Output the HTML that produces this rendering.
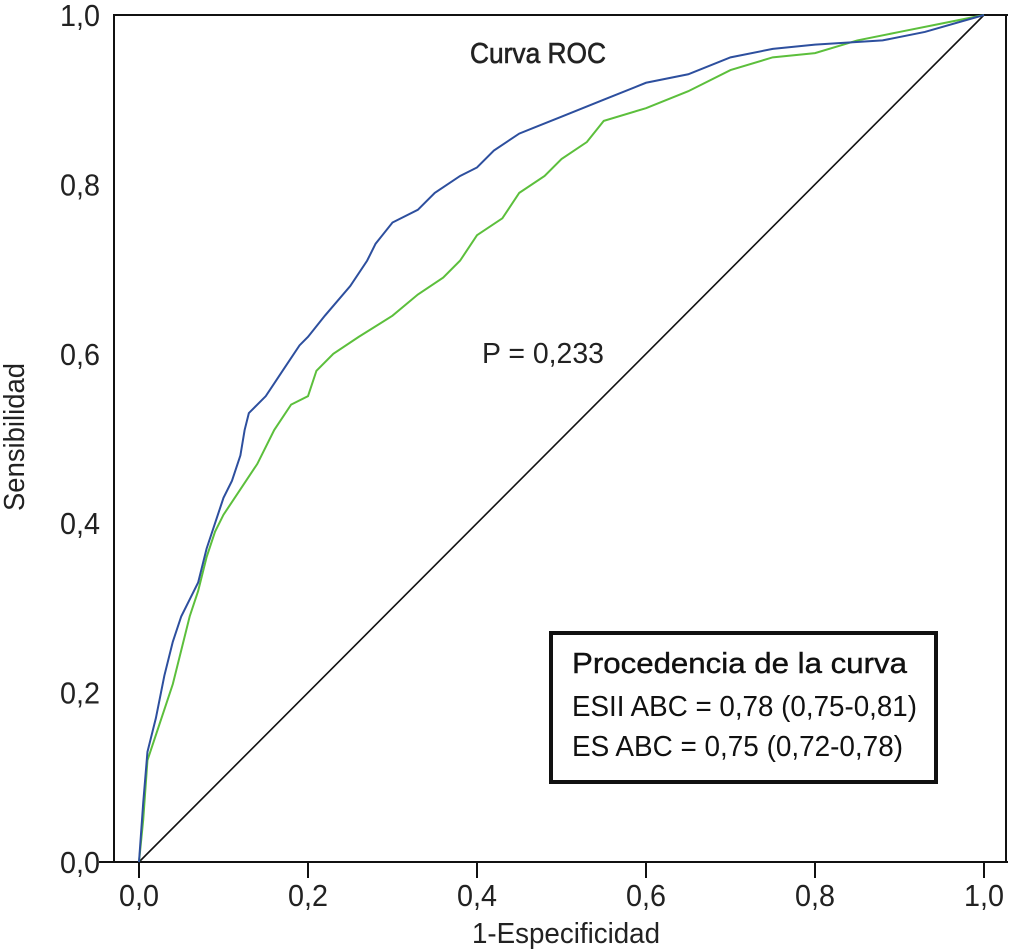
<!DOCTYPE html>
<html><head><meta charset="utf-8"><style>
html,body{margin:0;padding:0;background:#fff;}
svg{display:block;font-family:"Liberation Sans",sans-serif;}
</style></head><body>
<svg id="chart" width="1010" height="950" viewBox="0 0 1010 950">
<g id="frame">
<line x1="114" y1="15" x2="114" y2="862" stroke="#111" stroke-width="2"/>
<line x1="99" y1="862" x2="1008" y2="862" stroke="#111" stroke-width="2"/>
<line x1="113" y1="15" x2="1008" y2="15" stroke="#111" stroke-width="2"/>
<line x1="1006" y1="15" x2="1006" y2="862" stroke="#111" stroke-width="2"/>
</g>
<g id="ticks"></g>
<g id="series"></g>
<text x="538" y="63" font-size="29" text-anchor="middle" textLength="136" lengthAdjust="spacingAndGlyphs" stroke="#222" stroke-width="0.6" fill="#222">Curva ROC</text>
<text x="482" y="363" font-size="29" textLength="122" lengthAdjust="spacingAndGlyphs" fill="#222">P = 0,233</text>
<text x="566" y="943" font-size="29" text-anchor="middle" textLength="188" lengthAdjust="spacingAndGlyphs" fill="#222">1-Especificidad</text>
<text transform="translate(24,437) rotate(-90)" font-size="29" text-anchor="middle" textLength="148" lengthAdjust="spacingAndGlyphs" fill="#222">Sensibilidad</text>
<g>
<rect x="551" y="633" width="385" height="149" fill="#fff" stroke="#111" stroke-width="4"/>
<text x="572" y="673" font-size="29" textLength="335" lengthAdjust="spacingAndGlyphs" stroke="#111" stroke-width="0.4" fill="#111">Procedencia de la curva</text>
<text x="572" y="716" font-size="29" textLength="345" lengthAdjust="spacingAndGlyphs" fill="#111">ESII ABC = 0,78 (0,75-0,81)</text>
<text x="572" y="756" font-size="29" textLength="331" lengthAdjust="spacingAndGlyphs" fill="#111">ES ABC = 0,75 (0,72-0,78)</text>
</g>
</svg>
<script>
const tickValues = [0, 0.2, 0.4, 0.6, 0.8, 1.0];
const tickLabels = ["0,0", "0,2", "0,4", "0,6", "0,8", "1,0"];
const esiiFpr = [0,0.005,0.01,0.02,0.03,0.04,0.05,0.06,0.07,0.08,0.09,0.10,0.11,0.12,0.125,0.13,0.15,0.17,0.19,0.2,0.22,0.25,0.27,0.28,0.3,0.33,0.35,0.38,0.40,0.42,0.45,0.5,0.55,0.6,0.65,0.7,0.75,0.8,0.88,0.93,1];
const esiiTpr = [0,0.07,0.13,0.17,0.22,0.26,0.29,0.31,0.33,0.37,0.40,0.43,0.45,0.48,0.51,0.53,0.55,0.58,0.61,0.62,0.645,0.68,0.71,0.73,0.755,0.77,0.79,0.81,0.82,0.84,0.86,0.88,0.90,0.92,0.93,0.95,0.96,0.965,0.97,0.98,1];
const esFpr = [0,0.005,0.01,0.02,0.03,0.04,0.05,0.06,0.07,0.08,0.09,0.1,0.12,0.14,0.16,0.18,0.2,0.21,0.23,0.26,0.3,0.33,0.36,0.38,0.4,0.43,0.45,0.48,0.5,0.53,0.55,0.6,0.65,0.7,0.75,0.8,0.85,0.9,0.95,1];
const esTpr = [0,0.05,0.12,0.15,0.18,0.21,0.25,0.29,0.32,0.36,0.39,0.41,0.44,0.47,0.51,0.54,0.55,0.58,0.60,0.62,0.645,0.67,0.69,0.71,0.74,0.76,0.79,0.81,0.83,0.85,0.875,0.89,0.91,0.935,0.95,0.955,0.97,0.98,0.99,1];
const refX = [0, 1];
const refY = [0, 1];

const NS = "http://www.w3.org/2000/svg";
const xs = v => 139 + v * 845;
const ys = v => 862 - v * 847;

const ticks = document.getElementById("ticks");
tickValues.forEach((v, i) => {
  const t = document.createElementNS(NS, "line");
  
  
  t.setAttribute("x1", xs(v)); t.setAttribute("x2", xs(v));
  t.setAttribute("y1", 862); t.setAttribute("y2", 878);
  t.setAttribute("stroke", "#111"); t.setAttribute("stroke-width", "2");
  ticks.appendChild(t);
  const xl = document.createElementNS(NS, "text");
  
  
  xl.setAttribute("x", xs(v)); xl.setAttribute("y", 906);
  xl.setAttribute("font-size", "31"); xl.setAttribute("text-anchor", "middle");
  xl.setAttribute("textLength", "40"); xl.setAttribute("lengthAdjust", "spacingAndGlyphs");
  xl.setAttribute("fill", "#222");
  xl.textContent = tickLabels[i];
  ticks.appendChild(xl);
  const yl = document.createElementNS(NS, "text");
  
  
  yl.setAttribute("x", 100); yl.setAttribute("y", ys(v) + 11);
  yl.setAttribute("font-size", "31"); yl.setAttribute("text-anchor", "end");
  yl.setAttribute("textLength", "40"); yl.setAttribute("lengthAdjust", "spacingAndGlyphs");
  yl.setAttribute("fill", "#222");
  yl.textContent = tickLabels[i];
  ticks.appendChild(yl);
});

const series = document.getElementById("series");
function line(xa, ya, color, w, name) {
  const p = document.createElementNS(NS, "polyline");
  
  
  p.setAttribute("points", xa.map((x, i) => xs(x) + "," + ys(ya[i])).join(" "));
  p.setAttribute("fill", "none");
  p.setAttribute("stroke", color);
  p.setAttribute("stroke-width", w);
  series.appendChild(p);
}
line(refX, refY, "#111", 1.6, "reference-diagonal");
line(esFpr, esTpr, "#5cbf3c", 2, "es-roc-curve");
line(esiiFpr, esiiTpr, "#2d4f9e", 2, "esii-roc-curve");
</script>
</body></html>
